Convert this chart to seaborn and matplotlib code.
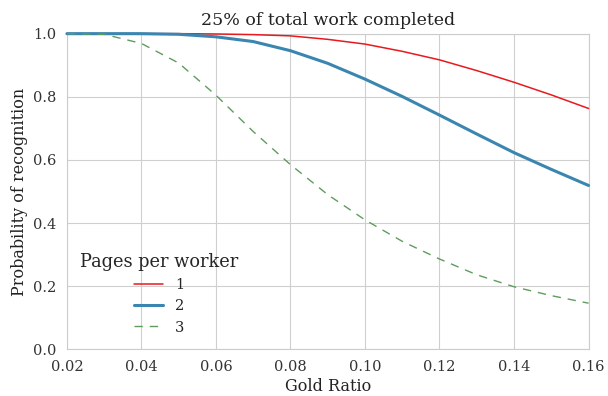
import matplotlib
matplotlib.use("Agg")
import matplotlib.pyplot as plt
import seaborn as sns
import pandas as pd

gold_ratio = [0.02, 0.03, 0.04, 0.05, 0.06, 0.07, 0.08, 0.09, 0.10,
              0.11, 0.12, 0.13, 0.14, 0.15, 0.16]
pages_1 = [1.0, 1.0, 1.0, 1.0, 0.999, 0.997, 0.993, 0.982, 0.967,
           0.944, 0.917, 0.883, 0.846, 0.806, 0.763]
pages_2 = [1.0, 1.0, 1.0, 0.998, 0.990, 0.975, 0.946, 0.906, 0.856,
           0.801, 0.742, 0.682, 0.623, 0.570, 0.519]
pages_3 = [1.0, 0.998, 0.969, 0.907, 0.805, 0.690, 0.585, 0.490, 0.410,
           0.342, 0.286, 0.236, 0.198, 0.170, 0.146]
series_labels = ["1", "2", "3"]

df = pd.DataFrame({
    "Gold Ratio": gold_ratio * 3,
    "Probability of recognition": pages_1 + pages_2 + pages_3,
    "Pages per worker": [series_labels[0]] * len(gold_ratio)
                        + [series_labels[1]] * len(gold_ratio)
                        + [series_labels[2]] * len(gold_ratio),
})

sns.set_style("whitegrid", {"axes.edgecolor": "#cccccc", "grid.color": "#cfcfcf"})
plt.rcParams["font.family"] = ["DejaVu Serif"]

palette = {"1": "#e8191d", "2": "#3a86b0", "3": "#5f9c5d"}
widths = {"1": 1.1, "2": 2.2, "3": 1.0}
dashes = {"1": "", "2": "", "3": (6, 5)}

fig, ax = plt.subplots(figsize=(6.08, 3.96), dpi=100)
sns.lineplot(data=df, x="Gold Ratio", y="Probability of recognition",
             hue="Pages per worker", style="Pages per worker",
             palette=palette, dashes=dashes, ax=ax, legend=True)

for i, (line, key) in enumerate(zip(ax.get_lines(), series_labels)):
    line.set_linewidth(widths[key])
    line.set_clip_on(False)
    line.set_zorder(3 + i)

ax.set_xlim(0.02, 0.16)
ax.set_ylim(0.0, 1.0)
ax.set_xticks([0.02, 0.04, 0.06, 0.08, 0.10, 0.12, 0.14, 0.16])
ax.set_xticklabels(["0.02", "0.04", "0.06", "0.08", "0.10", "0.12", "0.14", "0.16"])
ax.set_yticks([0.0, 0.2, 0.4, 0.6, 0.8, 1.0])
ax.set_yticklabels(["0.0", "0.2", "0.4", "0.6", "0.8", "1.0"])
ax.tick_params(labelsize=10.5, colors="#333333", pad=4)
ax.set_xlabel("Gold Ratio", fontsize=11.5, color="#222222", labelpad=3)
ax.set_ylabel("Probability of recognition", fontsize=11.5, color="#222222")
ax.set_title("25% of total work completed", fontsize=12.5, color="#222222")

handles, labels = ax.get_legend_handles_labels()
for h, key in zip(handles, labels):
    h.set_linewidth(widths[key])
leg = ax.legend(handles, labels, title="Pages per worker", loc="lower left",
                frameon=False, fontsize=10.5, title_fontsize=12.8,
                bbox_to_anchor=(0.0, 0.005))
leg._legend_box.align = "center"

fig.subplots_adjust(left=0.11, right=0.968, top=0.915, bottom=0.118)
fig.savefig("out.png", dpi=100)
